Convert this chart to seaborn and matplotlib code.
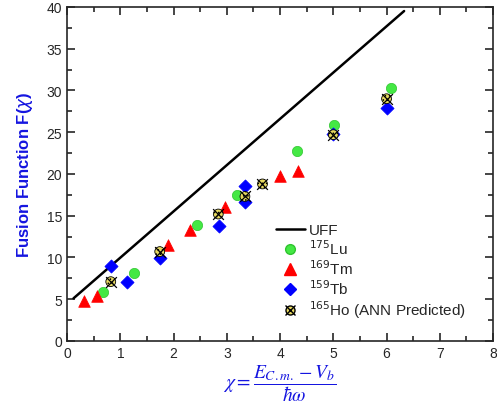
import matplotlib
matplotlib.use('Agg')
import matplotlib.pyplot as plt
import seaborn as sns
from matplotlib.ticker import MultipleLocator
from matplotlib.legend_handler import HandlerTuple

# --- Data ---
uff_x = [0.12, 6.33]
uff_y = [5.1, 39.5]

lu_x = [0.67, 1.26, 2.44, 3.20, 4.32, 5.02, 6.09]
lu_y = [5.9, 8.1, 13.9, 17.5, 22.8, 25.8, 30.3]

tm_x = [0.32, 0.57, 1.89, 2.31, 2.96, 4.00, 4.34]
tm_y = [4.8, 5.4, 11.5, 13.3, 16.0, 19.7, 20.3]

tb_x = [0.82, 1.12, 1.75, 2.86, 3.34, 3.34, 5.00, 6.00]
tb_y = [9.0, 7.1, 9.9, 13.8, 18.5, 16.6, 24.8, 27.9]

ho_x = [0.82, 1.74, 2.84, 3.34, 3.67, 5.00, 6.00]
ho_y = [7.1, 10.7, 15.2, 17.3, 18.8, 24.7, 29.0]

sns.set_style('ticks')
plt.rcParams['font.family'] = ['Liberation Sans', 'DejaVu Sans']
plt.rcParams['mathtext.fontset'] = 'dejavusans'
plt.rcParams['hatch.color'] = '#333333'
plt.rcParams['hatch.linewidth'] = 0.6

fig = plt.figure(figsize=(4.97, 4.14), dpi=100)
ax = fig.add_axes([0.135, 0.174, 0.857, 0.807])

sns.lineplot(x=uff_x, y=uff_y, color='black', linewidth=1.8, ax=ax)
sns.scatterplot(x=lu_x, y=lu_y, marker='o', s=55, color='#44e844',
                edgecolor='#2fc42f', linewidth=0.5, ax=ax, zorder=3)
sns.scatterplot(x=tm_x, y=tm_y, marker='^', s=70, color='#ff0000',
                edgecolor='#ff0000', linewidth=0.5, ax=ax, zorder=3)
sns.scatterplot(x=tb_x, y=tb_y, marker='D', s=45, color='#0000ff',
                edgecolor='#0000ff', linewidth=0.5, ax=ax, zorder=3)
sns.scatterplot(x=ho_x, y=ho_y, marker='o', s=50, color='#e6d860',
                edgecolor='black', linewidth=0.6, hatch='....', ax=ax, zorder=4)
sns.scatterplot(x=ho_x, y=ho_y, marker='x', s=60, color='black',
                linewidth=0.9, ax=ax, zorder=5)

ax.set_xlim(0, 8)
ax.set_ylim(0, 40)
ax.xaxis.set_major_locator(MultipleLocator(1))
ax.xaxis.set_minor_locator(MultipleLocator(0.5))
ax.yaxis.set_major_locator(MultipleLocator(5))
ax.yaxis.set_minor_locator(MultipleLocator(2.5))
ax.tick_params(which='both', direction='in', top=True, right=True,
               labelsize=10, width=1.2)
ax.tick_params(which='major', length=6)
ax.tick_params(which='minor', length=3.5)
for sp in ax.spines.values():
    sp.set_linewidth(1.2)

ax.set_ylabel(r'Fusion Function F($\chi$)', color='#1515e0',
              fontsize=12, fontweight='bold', labelpad=8)
ax.set_xlabel(r'$\chi = \dfrac{E_{C.m.} - V_b}{\hbar\omega}$', color='#1515e0',
              fontsize=14, math_fontfamily='stix', labelpad=2)

# Legend
h_uff = plt.Line2D([], [], color='black', linewidth=1.8)
h_lu = plt.Line2D([], [], marker='o', linestyle='', markersize=7,
                  markerfacecolor='#44e844', markeredgecolor='#2fc42f')
h_tm = plt.Line2D([], [], marker='^', linestyle='', markersize=8,
                  markerfacecolor='#ff0000', markeredgecolor='#ff0000')
h_tb = plt.Line2D([], [], marker='D', linestyle='', markersize=6.5,
                  markerfacecolor='#0000ff', markeredgecolor='#0000ff')
h_ho1 = plt.Line2D([], [], marker='o', linestyle='', markersize=6.5,
                   markerfacecolor='#e6d860', markeredgecolor='black')
h_ho2 = plt.Line2D([], [], marker='x', linestyle='', markersize=7.5,
                   color='black')
ax.legend([h_uff, h_lu, h_tm, h_tb, (h_ho1, h_ho2)],
          ['UFF', r'$^{175}$Lu', r'$^{169}$Tm', r'$^{159}$Tb',
           r'$^{165}$Ho (ANN Predicted)'],
          handler_map={tuple: HandlerTuple(ndivide=1, pad=0)},
          loc='upper left', bbox_to_anchor=(0.475, 0.37), frameon=False,
          fontsize=11, handlelength=1.9, handletextpad=0.3, labelspacing=0.08,
          borderaxespad=0)

fig.savefig('out.png', dpi=100)
